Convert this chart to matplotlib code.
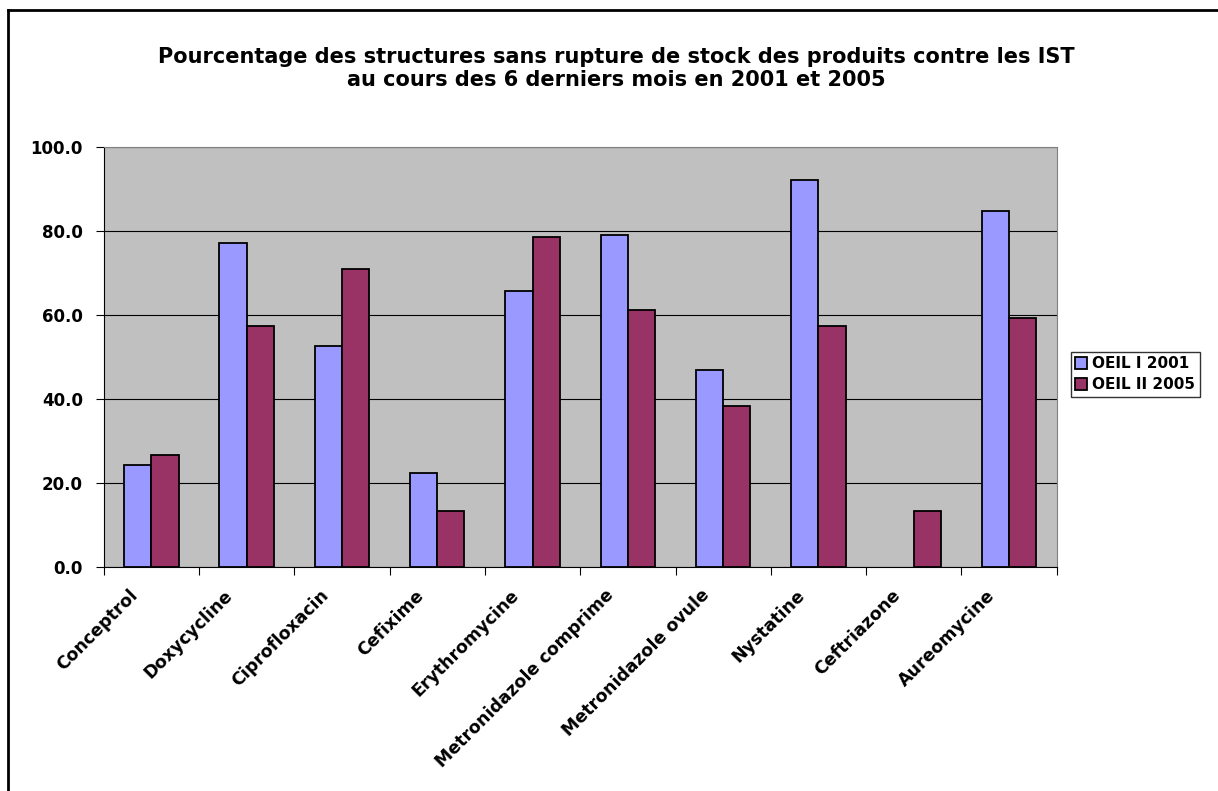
import numpy as np
import matplotlib.pyplot as plt
from matplotlib.lines import Line2D

plt.rcParams['font.family'] = ['DejaVu Sans']

produits = ["Conceptrol", "Doxycycline", "Ciprofloxacin", "Cefixime",
            "Erythromycine", "Metronidazole comprime", "Metronidazole ovule",
            "Nystatine", "Ceftriazone", "Aureomycine"]
oeil_2001 = [24.4, 77.1, 52.6, 22.5, 65.8, 79.0, 47.0, 92.3, 0.0, 84.8]
oeil_2005 = [26.8, 57.5, 71.0, 13.4, 78.6, 61.3, 38.3, 57.5, 13.4, 59.4]
series_labels = ["OEIL I 2001", "OEIL II 2005"]
yticks = [0, 20, 40, 60, 80, 100]

fig = plt.figure(figsize=(12.18, 7.91), dpi=100)
ax = fig.add_axes([0.0851, 0.2828, 0.7825, 0.531])
ax.set_facecolor("#c0c0c0")

x = np.arange(len(produits))
w = 1 / 3.5
# no outline for empty bars (Ceftriazone 2001)
lw1 = [0 if v == 0 else 1.3 for v in oeil_2001]
lw2 = [0 if v == 0 else 1.3 for v in oeil_2005]
ax.bar(x - w / 2, oeil_2001, w, color="#9999ff", edgecolor="black",
       linewidth=lw1, label=series_labels[0], zorder=3)
ax.bar(x + w / 2, oeil_2005, w, color="#993366", edgecolor="black",
       linewidth=lw2, label=series_labels[1], zorder=3)

ax.set_xlim(-0.5, len(produits) - 0.5)
ax.set_ylim(0, 100)
ax.set_yticks(yticks)
ax.set_yticklabels([f"{v:.1f}" for v in yticks], fontsize=12, fontweight="bold")
ax.yaxis.grid(True, color="black", linewidth=0.8, zorder=1)
ax.set_axisbelow(True)

# category ticks between groups, labels under the centres
ax.set_xticks(np.arange(-0.5, len(produits)))
ax.set_xticklabels([])
ax.tick_params(axis="x", length=6, direction="out", width=0.8)
ax.tick_params(axis="y", length=6, direction="out", width=0.8, pad=9)
for xi, name in zip(x, produits):
    ax.text(xi - 0.24, -4.5, name, rotation=45, ha="right", va="top",
            rotation_mode="anchor", fontsize=12.5, fontweight="bold")

for side in ["top", "right"]:
    ax.spines[side].set_color("#808080")
for side in ["left", "bottom"]:
    ax.spines[side].set_color("black")

fig.text(0.506, 0.928, "Pourcentage des structures sans rupture de stock des produits contre les IST",
         ha="center", va="center", fontsize=15, fontweight="bold")
fig.text(0.506, 0.899, "au cours des 6 derniers mois en 2001 et 2005",
         ha="center", va="center", fontsize=15, fontweight="bold")

leg = fig.legend(loc="center left", bbox_to_anchor=(0.879, 0.527), frameon=True,
                 fancybox=False, edgecolor="black",
                 prop={"weight": "bold", "size": 11},
                 handlelength=0.8, handleheight=0.8, handletextpad=0.3,
                 borderpad=0.3, labelspacing=0.4, borderaxespad=0)
leg.get_frame().set_linewidth(1)

# chart area border (left and top edges visible)
fig.add_artist(Line2D([8 / 1218, 8 / 1218], [0, 1 - 10 / 791], color="black",
                      linewidth=2, transform=fig.transFigure))
fig.add_artist(Line2D([8 / 1218, 1], [1 - 10 / 791, 1 - 10 / 791], color="black",
                      linewidth=2, transform=fig.transFigure))

fig.savefig("out.png", dpi=100)
